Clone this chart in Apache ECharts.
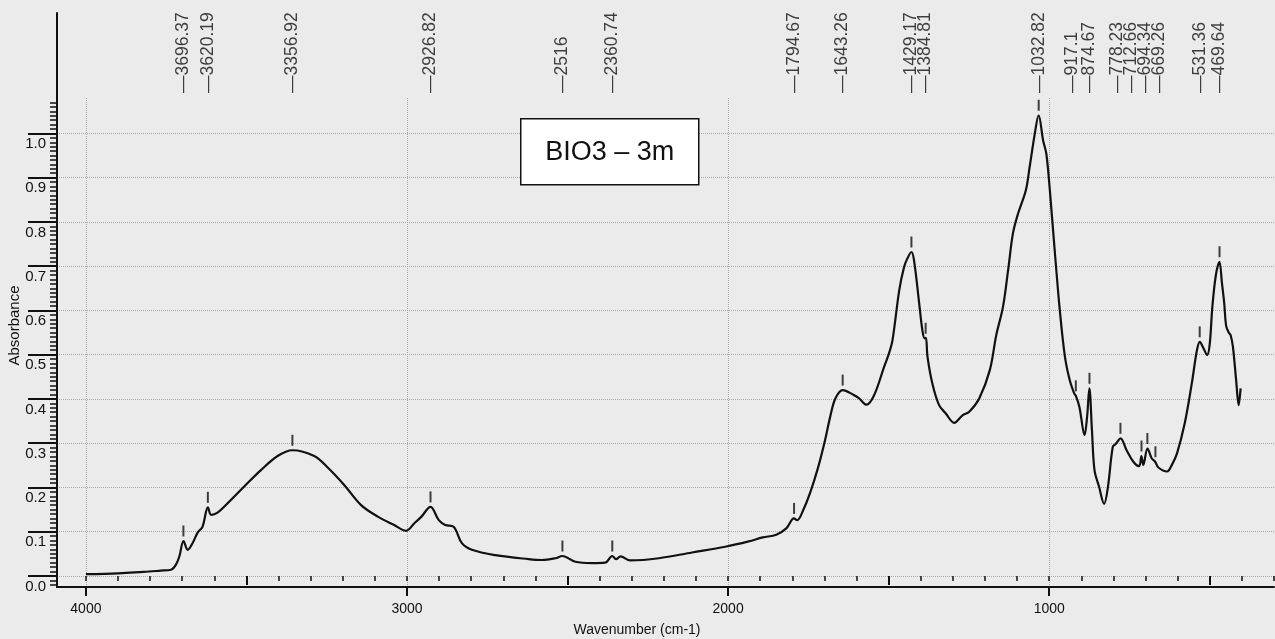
<!DOCTYPE html>
<html><head><meta charset="utf-8">
<script src="https://cdn.jsdelivr.net/npm/echarts@6/dist/echarts.min.js"></script>
<style>html,body{margin:0;padding:0;background:#ebebeb}#c{width:1275px;height:639px}</style>
</head><body><div id="c"></div>
<script>
// ---- data ----
const wavenumber = [4000,3900,3820,3767,3735,3720,3709,3696,3683,3668,3652,3637,3620,3610,3590,3559,3507,3455,3403,3357,3289,3247,3195,3143,3091,3040,3003,2977,2955,2927,2901,2881,2855,2829,2798,2725,2621,2580,2538,2516,2476,2424,2383,2361,2349,2335,2305,2216,2112,2009,1936,1892,1850,1818,1795,1785,1766,1745,1719,1698,1682,1666,1643,1609,1593,1569,1545,1514,1499,1488,1467,1452,1442,1429,1421,1405,1395,1388,1384,1379,1364,1343,1322,1296,1270,1249,1218,1185,1165,1144,1128,1113,1097,1073,1061,1045,1033,1019,1009,998,983,967,951,936,922,917,906,890,882,875,867,859,845,829,817,802,793,778,759,738,720,713,707,694,681,670,660,633,618,602,578,556,540,531,520,508,500,492,481,470,462,455,449,441,435,428,418,410,404];
const absorbance = [0.004,0.006,0.009,0.012,0.014,0.025,0.044,0.079,0.059,0.074,0.098,0.111,0.155,0.138,0.143,0.164,0.202,0.239,0.271,0.284,0.271,0.245,0.205,0.160,0.134,0.115,0.102,0.119,0.134,0.156,0.126,0.115,0.111,0.074,0.059,0.047,0.038,0.036,0.040,0.045,0.032,0.029,0.030,0.045,0.038,0.044,0.035,0.040,0.053,0.066,0.078,0.087,0.093,0.108,0.130,0.126,0.149,0.187,0.247,0.307,0.360,0.401,0.420,0.409,0.402,0.387,0.409,0.473,0.503,0.533,0.646,0.698,0.717,0.732,0.713,0.616,0.555,0.537,0.538,0.495,0.435,0.386,0.367,0.346,0.363,0.371,0.401,0.465,0.544,0.608,0.691,0.774,0.819,0.871,0.924,0.999,1.041,0.984,0.954,0.871,0.736,0.600,0.495,0.442,0.412,0.407,0.382,0.318,0.360,0.424,0.330,0.239,0.202,0.163,0.202,0.292,0.298,0.311,0.284,0.258,0.248,0.271,0.251,0.288,0.266,0.258,0.245,0.236,0.251,0.277,0.345,0.435,0.510,0.529,0.515,0.499,0.525,0.608,0.680,0.710,0.661,0.616,0.565,0.550,0.544,0.518,0.443,0.386,0.424];

const peakWavenumber = [3696.37,3620.19,3356.92,2926.82,2516,2360.74,1794.67,1643.26,1429.17,1384.81,1032.82,917.1,874.67,778.23,712.66,694.34,669.26,531.36,469.64];
const peakAbsorbance = [0.079,0.155,0.284,0.156,0.045,0.045,0.130,0.420,0.732,0.537,1.041,0.407,0.424,0.311,0.271,0.288,0.258,0.529,0.710];

const xLabelTicks = [4000,3000,2000,1000];
const xHalfTicks = [3500,2500,1500,500];
const yMajorTicks = [0,0.1,0.2,0.3,0.4,0.5,0.6,0.7,0.8,0.9,1.0];

const sampleName = 'BIO3 – 3m';
const xTitle = 'Wavenumber (cm-1)';
const yTitle = 'Absorbance';

// ---- styling (label nudges in px, to spread crowded peak labels) ----
const labelNudge = [0,0,0,0,0,0,0,0,0,0,0,-4,0,-3.5,-10.5,-2.5,3.5,0,0];

const yMinorTicks = [];
for (let i = -2; i <= 107; i++) yMinorTicks.push(i / 100);

const FONT = "'Liberation Sans', Arial, sans-serif";
const INK = '#111';
const GRIDC = '#a9a9a9';

const X_MIN = 300, X_MAX = 4090;
const Y_MIN = -0.025, Y_MAX = 1.08;

const chart = echarts.init(document.getElementById('c'), null, {renderer: 'canvas'});
chart.setOption({
  backgroundColor: '#ebebeb',
  animation: false,
  grid: [
    {left: 57, right: 1, top: 98, bottom: 52, outerBoundsMode: 'none', containLabel: false},
    {left: 57, right: 1, top: 13, height: 85, outerBoundsMode: 'none', containLabel: false}
  ],
  xAxis: [
    {gridIndex: 0, type: 'value', inverse: true, min: X_MIN, max: X_MAX, position: 'bottom',
     axisLine: {show: true, onZero: false, lineStyle: {color: INK, width: 2}},
     axisTick: {show: true, customValues: xLabelTicks, length: 9, lineStyle: {color: INK, width: 2}},
     axisLabel: {show: true, customValues: xLabelTicks, formatter: v => String(v), margin: 15, color: INK, fontSize: 14, fontFamily: FONT},
     splitLine: {show: true, lineStyle: {color: GRIDC, type: 'dotted', width: 1}},
     name: xTitle, nameLocation: 'middle', nameGap: 36, nameMoveOverlap: false,
     nameTextStyle: {color: INK, fontSize: 14, fontFamily: FONT, padding: [0, 57, 0, 0]}},
    {gridIndex: 0, type: 'value', inverse: true, min: X_MIN, max: X_MAX, position: 'bottom',
     axisLine: {show: false},
     axisTick: {show: true, customValues: xHalfTicks, length: 9, lineStyle: {color: INK, width: 2}},
     axisLabel: {show: false}, splitLine: {show: false}},
    {gridIndex: 0, type: 'value', inverse: true, min: X_MIN, max: X_MAX, interval: 100, position: 'bottom',
     axisLine: {show: false},
     axisTick: {show: true, length: 5, lineStyle: {color: INK, width: 1.5}},
     axisLabel: {show: false}, splitLine: {show: false}},
    {gridIndex: 1, type: 'value', inverse: true, min: X_MIN, max: X_MAX, show: false}
  ],
  yAxis: [
    {gridIndex: 0, type: 'value', min: Y_MIN, max: Y_MAX, position: 'left',
     axisLine: {show: true, onZero: false, lineStyle: {color: INK, width: 2}},
     axisTick: {show: true, customValues: yMajorTicks, length: 29, lineStyle: {color: INK, width: 2}},
     axisLabel: {show: true, customValues: yMajorTicks, formatter: v => v.toFixed(1), margin: 11,
                 verticalAlign: 'top', padding: [3, 0, 0, 0], color: INK, fontSize: 15, fontFamily: FONT},
     splitLine: {show: true, lineStyle: {color: GRIDC, type: 'dotted', width: 1}},
     name: yTitle, nameLocation: 'middle', nameGap: 35, nameMoveOverlap: false,
     nameTextStyle: {color: INK, fontSize: 15, fontFamily: FONT, padding: [0, 0, 0, 34]}},
    {gridIndex: 0, type: 'value', min: Y_MIN, max: Y_MAX, position: 'left',
     axisLine: {show: false},
     axisTick: {show: true, customValues: yMinorTicks, length: 7, lineStyle: {color: INK, width: 1.5}},
     axisLabel: {show: false}, splitLine: {show: false}},
    {gridIndex: 1, type: 'value', min: -1, max: 16, position: 'left',
     axisLine: {show: true, lineStyle: {color: INK, width: 2}},
     axisTick: {show: false}, axisLabel: {show: false}, splitLine: {show: false}}
  ],
  graphic: [{
    type: 'group', left: 520, top: 118, z: 100,
    children: [
      {type: 'rect', z: 100, shape: {x: 0, y: 0, width: 178, height: 66}, style: {fill: '#ffffff', stroke: INK, lineWidth: 1.5}},
      {type: 'text', z: 101, x: 89, y: 34, style: {text: sampleName, fill: INK, font: "27px 'Liberation Sans', Arial, sans-serif", align: 'center', verticalAlign: 'middle'}}
    ]
  }],
  series: [
    {type: 'line', xAxisIndex: 0, yAxisIndex: 0, silent: true, showSymbol: false,
     smooth: 0.35,
     lineStyle: {color: INK, width: 2.2},
     data: wavenumber.map((w, i) => [w, absorbance[i]])},
    {type: 'scatter', xAxisIndex: 0, yAxisIndex: 0, silent: true,
     symbol: 'rect', symbolSize: [2, 11], symbolOffset: [0, -10],
     itemStyle: {color: INK},
     data: peakWavenumber.map((w, i) => [w, peakAbsorbance[i]])},
    {type: 'scatter', xAxisIndex: 3, yAxisIndex: 2, silent: true,
     symbolSize: 0,
     label: {show: true, position: 'inside', rotate: 90, align: 'left', verticalAlign: 'middle',
             formatter: p => '—' + String(p.value[0]), color: INK, fontSize: 17.5, fontFamily: FONT},
     labelLayout: p => ({dy: labelNudge[p.dataIndex]}),
     data: peakWavenumber.map(w => [w, 0])}
  ]
});
</script>
</body></html>
